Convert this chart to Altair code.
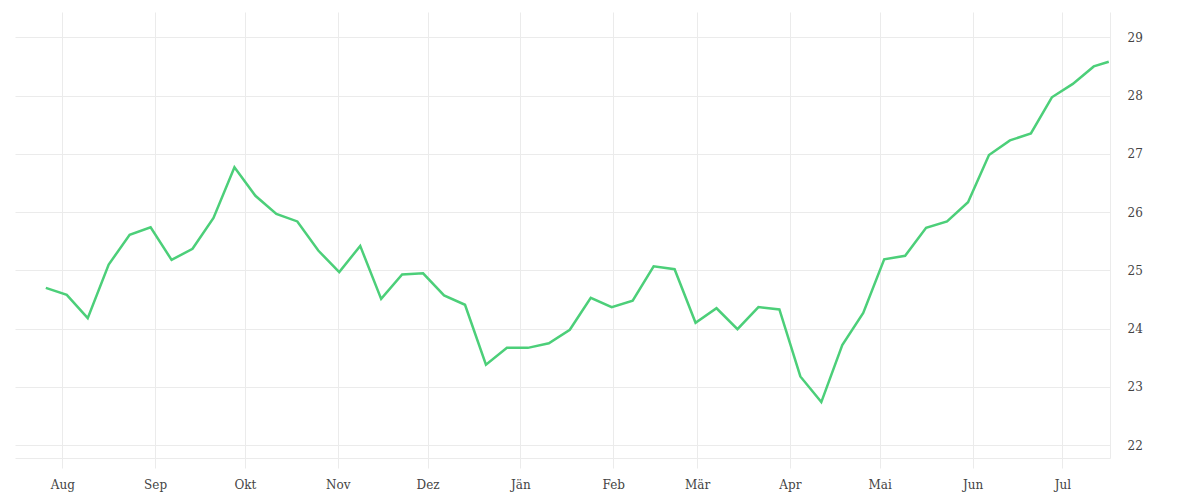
import json
import altair as alt
import pandas as pd

dates = [
    "2022-07-26", "2022-08-02", "2022-08-09", "2022-08-16", "2022-08-23", "2022-08-30",
    "2022-09-06", "2022-09-13", "2022-09-20", "2022-09-27", "2022-10-04", "2022-10-11",
    "2022-10-18", "2022-10-25", "2022-11-01", "2022-11-08", "2022-11-15", "2022-11-22",
    "2022-11-29", "2022-12-06", "2022-12-13", "2022-12-20", "2022-12-27", "2023-01-03",
    "2023-01-10", "2023-01-17", "2023-01-24", "2023-01-31", "2023-02-07", "2023-02-14",
    "2023-02-21", "2023-02-28", "2023-03-07", "2023-03-14", "2023-03-21", "2023-03-28",
    "2023-04-04", "2023-04-11", "2023-04-18", "2023-04-25", "2023-05-02", "2023-05-09",
    "2023-05-16", "2023-05-23", "2023-05-30", "2023-06-06", "2023-06-13", "2023-06-20",
    "2023-06-27", "2023-07-04", "2023-07-11", "2023-07-16",
]
values = [
    24.70, 24.58, 24.18, 25.10, 25.61, 25.74, 25.18, 25.37, 25.90, 26.77, 26.28, 25.97,
    25.84, 25.34, 24.97, 25.42, 24.51, 24.93, 24.95, 24.57, 24.41, 23.38, 23.67, 23.67,
    23.75, 23.98, 24.53, 24.37, 24.48, 25.07, 25.02, 24.10, 24.35, 23.99, 24.37, 24.33,
    23.18, 22.74, 23.72, 24.27, 25.19, 25.25, 25.73, 25.84, 26.17, 26.98, 27.23, 27.35,
    27.97, 28.20, 28.50, 28.58,
]
month_labels = ["Jän", "Feb", "Mär", "Apr", "Mai", "Jun", "Jul", "Aug", "Sep", "Okt", "Nov", "Dez"]
y_ticks = [22, 23, 24, 25, 26, 27, 28, 29]

df = pd.DataFrame({"date": [d + "T12:00:00Z" for d in dates], "value": values})

GRID = "#ebebeb"
TEXT = "#444444"
FONT = "DejaVu Serif"

label_expr = json.dumps(month_labels) + "[utcmonth(datum.value)]"

chart = (
    alt.Chart(df)
    .mark_line(color="#4ccf79", strokeWidth=2.5)
    .encode(
        x=alt.X(
            "date:T",
            title=None,
            scale=alt.Scale(
                type="utc",
                domain=["2022-07-16T05:00:00Z", "2023-07-16T22:00:00Z"],
                nice=False,
            ),
            axis=alt.Axis(
                tickCount="month",
                labelExpr=label_expr,
                grid=True,
                gridColor=GRID,
                domainColor=GRID,
                tickColor=GRID,
                tickSize=10,
                labelPadding=11,
                labelFont=FONT,
                labelFontSize=12,
                labelColor=TEXT,
            ),
        ),
        y=alt.Y(
            "value:Q",
            title=None,
            scale=alt.Scale(domain=[21.78, 29.434], nice=False, zero=False),
            axis=alt.Axis(
                orient="right",
                values=y_ticks,
                grid=True,
                gridColor=GRID,
                domainColor=GRID,
                ticks=False,
                labelPadding=17,
                labelFont=FONT,
                labelFontSize=12,
                labelColor=TEXT,
            ),
        ),
    )
    .properties(
        width=1095,
        height=446,
        background="white",
        padding={"left": 7, "top": 4, "right": 5, "bottom": 5},
    )
    .configure_view(stroke=None)
)

chart.save("out.html", embed_options={"renderer": "svg", "actions": False})
